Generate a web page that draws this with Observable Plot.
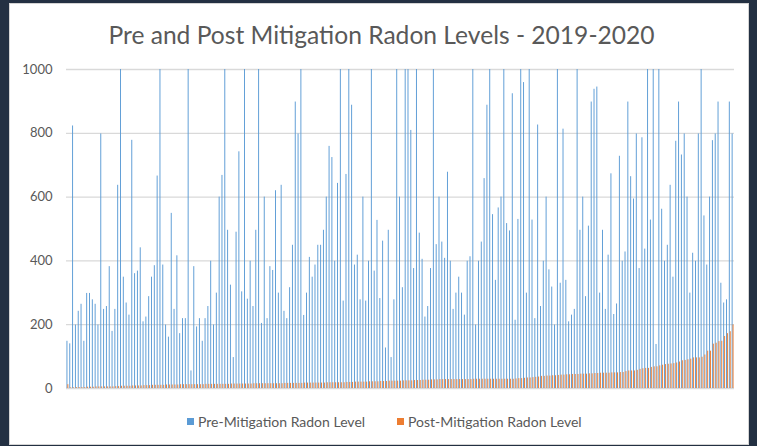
<!DOCTYPE html>
<html>
<head>
<meta charset="utf-8">
<script src="https://cdn.jsdelivr.net/npm/d3@7"></script>
<script src="https://cdn.jsdelivr.net/npm/@observablehq/plot@0.6"></script>
<style>
  html, body { margin: 0; padding: 0; }
  body { width: 757px; height: 446px; background: #233042; position: relative; overflow: hidden; font-family: Lato, "Open Sans", sans-serif; }
  #panel { position: absolute; left: 9px; top: 3px; width: 738px; height: 440px; background: #fff; border: 1px solid #d4d4d4; }
  #title { position: absolute; left: 0; top: 20px; width: 763px; text-align: center; font-size: 24.6px; line-height: 30px; color: #595959; white-space: nowrap; }
  #chart { position: absolute; left: 0; top: 50px; }
  .leg { position: absolute; top: 413px; font-size: 14px; color: #595959; white-space: nowrap; display: flex; align-items: center; }
  .sw { display: inline-block; width: 7px; height: 7px; margin-right: 4px; }
</style>
</head>
<body>
<div id="panel"></div>
<div id="title"></div>
<div id="chart"></div>
<div id="leg1" class="leg" style="left:187px"></div>
<div id="leg2" class="leg" style="left:397px"></div>
<script>
const titleText = "Pre and Post Mitigation Radon Levels - 2019-2020";
const seriesNames = ["Pre-Mitigation Radon Level", "Post-Mitigation Radon Level"];
const seriesColors = ["#5B9BD5", "#ED7D31"];
const yTicks = [0, 200, 400, 600, 800, 1000];

const preLevels = [
  148,140,823,199,242,264,148,298,298,278,264,199,798,248,257,382,179,248,637,1000,349,268,230,778,360,368,441,209,224,288,349,385,666,1000,387,199,161,549,248,416,
  172,219,219,1000,55,382,193,219,148,219,257,399,199,299,600,668,1000,496,324,97,490,742,303,1000,280,399,257,496,1000,204,600,219,382,370,620,299,637,242,219,
  316,449,898,798,1000,229,299,411,349,387,449,449,496,600,759,724,399,643,1000,274,671,1000,888,387,418,278,600,274,399,1000,368,527,282,462,127,496,97,278,1000,600,
  316,1000,1000,809,376,1000,487,405,224,257,376,1000,451,600,459,408,678,399,248,299,349,299,230,399,413,1000,199,399,459,658,888,1000,545,339,566,600,1000,517,494,924,
  214,530,1000,959,299,1000,528,219,826,257,399,600,372,318,199,1000,330,813,339,209,230,248,1000,496,600,288,509,898,938,945,299,496,248,418,673,232,265,728,399,
  428,898,664,594,798,376,786,437,1000,528,1000,138,1000,562,399,449,637,349,775,898,732,798,600,299,424,399,798,1000,541,387,600,777,798,898,330,268,278,898,798
];

const postLevels = [
  12,
  2,2,3,3,3,3,4,4,4,
  5,5,5,5,5,5,5,
  6,6,7,7,7,7,8,8,8,8,
  9,9,9,10,10,10,10,10,11,11,11,11,11,
  12,12,12,12,12,12,12,12,12,13,13,13,13,13,13,13,13,13,14,14,14,14,14,14,14,14,
  15,15,15,15,15,15,15,15,15,15,15,
  16,16,16,16,16,16,16,17,17,17,17,17,17,17,17,18,18,18,18,18,18,18,
  19,19,19,20,20,20,20,20,21,21,21,21,
  22,22,22,23,23,23,23,23,24,24,24,24,
  25,25,25,26,26,26,27,27,27,
  28,28,28,28,28,28,28,28,28,28,28,28,29,29,29,29,29,29,29,29,29,29,29,29,29,29,29,
  30,31,31,32,33,33,34,35,36,38,38,39,39,40,40,41,42,42,43,43,44,44,44,45,45,45,46,46,47,47,48,48,48,48,49,49,49,50,50,
  53,55,55,55,57,60,62,63,63,66,68,68,71,73,75,76,77,78,80,83,87,88,90,92,96,96,96,98,105,117,117,139,142,147,148,163,172,178,199
];

const homes = d3.range(preLevels.length);
const rows = homes.map(i => ({home: i, pre: preLevels[i], post: postLevels[i]}));

document.getElementById("title").textContent = titleText;
[["leg1", 0], ["leg2", 1]].forEach(([id, k]) => {
  const el = document.getElementById(id);
  const sw = document.createElement("span");
  sw.className = "sw"; sw.style.background = seriesColors[k];
  el.appendChild(sw);
  el.appendChild(document.createTextNode(seriesNames[k]));
});

const W = 757;
const chart = Plot.plot({
  width: W, height: 350,
  marginLeft: 66, marginRight: 23, marginTop: 19, marginBottom: 12,
  style: {fontFamily: "Lato, 'Open Sans', sans-serif", fontSize: "13px", color: "#595959", background: "transparent", overflow: "visible"},
  x: {type: "band", domain: homes, padding: 0, round: false, axis: null},
  y: {domain: [0, 1000], ticks: yTicks, tickSize: 0, tickPadding: 14, label: null, tickFormat: d => String(d), clamp: true},
  marks: [
    Plot.ruleY(yTicks, {stroke: "#d9d9d9", strokeWidth: 1.3}),
    Plot.barY(rows, {x: "home", y: "pre", fill: seriesColors[0], insetLeft: 0.47, insetRight: 1.4}),
    Plot.barY(rows, {x: "home", y: "post", fill: seriesColors[1], insetLeft: 1.4, insetRight: 0.47})
  ]
});
document.getElementById("chart").appendChild(chart);
</script>
</body>
</html>
